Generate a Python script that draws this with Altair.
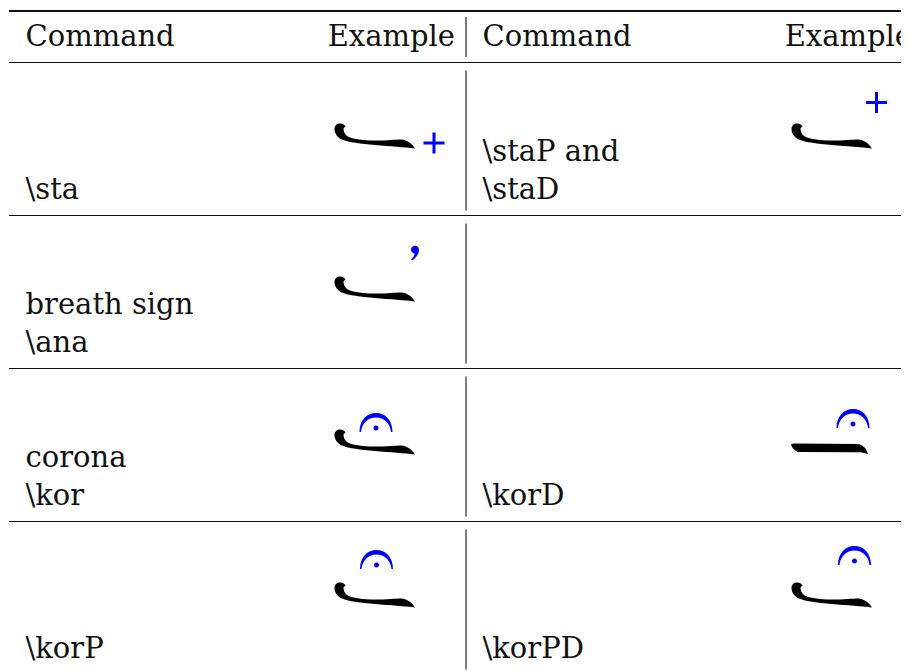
import altair as alt
import pandas as pd

# ---------------- content ----------------
HEADERS = ["Command", "Example", "Command", "Example"]
LEFT_COMMANDS = [["\\sta"], ["breath sign", "\\ana"], ["corona", "\\kor"], ["\\korP"]]
RIGHT_COMMANDS = [["\\staP and", "\\staD"], [], ["\\korD"], ["\\korPD"]]
# (base neume, accent sign, accent placement)
LEFT_EXAMPLES = [("curl", "plus", "beside"), ("curl", "comma", "breath"),
                 ("curl", "corona", "close"), ("curl", "corona", "above")]
RIGHT_EXAMPLES = [("curl", "plus", "raised"), None,
                  ("flat", "corona", "raised"), ("curl", "corona", "high")]

# ---------------- layout / style ----------------
W, H = 893, 663
TABLE_LEFT = 1
HALF_W = 457
PAD_L, PAD_R = 16.5, 11
TOP_RULE = 3
HEADER_RULE = 54
ROW_H = 153
LINE_H = 38
FONT = "DejaVu Serif"
FS = 29
BLUE = "#0000ff"
RULE_COLOR = "#111111"

CURL = ("M -40.5,-7 C -40.5,-10.5 -38,-12.5 -35,-12.5 C -32,-12.5 -30,-11 -29.5,-9.5 "
        "C -30,-9 -31,-8.5 -31.5,-7.5 C -31.5,-5 -30.5,-2 -28,0 "
        "C -24,2.5 -15,4 -5,4.5 C 8,5 20,3.5 26,3.5 "
        "C 33,4 37,8 40,12.5 C 30,11 15,10.5 0,9 C -15,7.5 -26,6.5 -33,3.5 "
        "C -38,1.5 -40.5,-3 -40.5,-7 Z")
FLAT = ("M -41,2.5 C -40,1.5 -39,1.5 -37,1.5 L 25,2 C 31,2.5 34,6 36,12 "
        "C 32,10.5 28,10.2 25,10.2 L -33,10 C -37,9.5 -40,6 -41,2.5 Z")
CORONA = ("M -16.5,0 C -16.5,-12 -9,-19 0,-19 C 9,-19 16.5,-12 16.5,0 L 15,0 "
          "C 14,-9 8,-14.5 0,-14.5 C -8,-14.5 -14,-9 -15,0 Z "
          "M -2.5,-4 C -2.5,-5.38 -1.38,-6.5 0,-6.5 C 1.38,-6.5 2.5,-5.38 2.5,-4 "
          "C 2.5,-2.62 1.38,-1.5 0,-1.5 C -1.38,-1.5 -2.5,-2.62 -2.5,-4 Z")
COMMA = ("M 0,-3.8 C 2.5,-3.8 4,-2 4,0.5 C 4,4.5 1,8.5 -3,11 L -3.8,10 "
         "C -1.5,8 -0.5,6 -0.5,4 C -2.5,3.8 -4,2 -4,0 C -4,-2 -2.2,-3.8 0,-3.8 Z")
PLUS = "M -10.5,0 L 10.5,0 M 0,-10.5 L 0,10.5"
BASE_SHAPES = {"curl": CURL, "flat": FLAT}
ACCENT_SHAPES = {"corona": CORONA, "comma": COMMA, "plus": PLUS}
ACCENT_OFFSET = {
    ("plus", "beside"): (59, 7),
    ("plus", "raised"): (44.5, -33.5),
    ("comma", "breath"): (40, -39.5),
    ("corona", "close"): (1, -10),
    ("corona", "raised"): (21, -14),
    ("corona", "above"): (1.5, -26),
    ("corona", "high"): (22.5, -30),
}

# ---------------- build tables ----------------
texts = []
for c, h in enumerate(HEADERS):
    half = c // 2
    left = TABLE_LEFT + half * HALF_W
    if c % 2 == 0:
        texts.append({"t": h, "x": left + PAD_L, "y": TOP_RULE + 35, "al": "left"})
    else:
        texts.append({"t": h, "x": left + HALF_W - PAD_R, "y": TOP_RULE + 35, "al": "right"})

for half, cmds in enumerate([LEFT_COMMANDS, RIGHT_COMMANDS]):
    left = TABLE_LEFT + half * HALF_W
    for r, lines in enumerate(cmds):
        top = HEADER_RULE + r * ROW_H
        n = len(lines)
        for i, ln in enumerate(lines):
            texts.append({"t": ln, "x": left + PAD_L,
                          "y": top + 137 - (n - 1 - i) * LINE_H, "al": "left"})
text_df = pd.DataFrame(texts)

fills, strokes = [], []
for half, exs in enumerate([LEFT_EXAMPLES, RIGHT_EXAMPLES]):
    left = TABLE_LEFT + half * HALF_W
    for r, ex in enumerate(exs):
        if ex is None:
            continue
        base, acc, place = ex
        cx = left + 366
        cy = HEADER_RULE + r * ROW_H + 74
        fills.append({"x": cx, "y": cy, "shape": BASE_SHAPES[base], "col": "black"})
        dx, dy = ACCENT_OFFSET[(acc, place)]
        item = {"x": cx + dx, "y": cy + dy, "shape": ACCENT_SHAPES[acc], "col": BLUE}
        (strokes if acc == "plus" else fills).append(item)
fill_df = pd.DataFrame(fills)
stroke_df = pd.DataFrame(strokes)

hrules = [{"x": TABLE_LEFT, "x2": TABLE_LEFT + 2 * HALF_W, "y": TOP_RULE, "w": 2}]
for k in range(4):
    hrules.append({"x": TABLE_LEFT, "x2": TABLE_LEFT + 2 * HALF_W,
                   "y": HEADER_RULE + k * ROW_H + 0.5, "w": 1.1})
hrule_df = pd.DataFrame(hrules)

vx = TABLE_LEFT + HALF_W
vrules = [{"x": vx, "y": TOP_RULE + 6, "y2": HEADER_RULE - 5}]
for r in range(4):
    top = HEADER_RULE + r * ROW_H
    vrules.append({"x": vx, "y": top + 8.5, "y2": top + ROW_H - 4.5})
vrule_df = pd.DataFrame(vrules)

xs = alt.Scale(domain=[0, W], nice=False, zero=False)
ys = alt.Scale(domain=[0, H], nice=False, zero=False, reverse=True)


def X(f="x"):
    return alt.X(f"{f}:Q", scale=xs, axis=None)


def Y(f="y"):
    return alt.Y(f"{f}:Q", scale=ys, axis=None)


h_layer = alt.Chart(hrule_df).mark_rule(color=RULE_COLOR).encode(
    x=X(), x2="x2:Q", y=Y(), strokeWidth=alt.StrokeWidth("w:Q", scale=None))
v_layer = alt.Chart(vrule_df).mark_rule(color=RULE_COLOR, strokeWidth=1.1).encode(
    x=X(), y=Y(), y2="y2:Q")
t_left = alt.Chart(text_df[text_df["al"] == "left"]).mark_text(
    font=FONT, fontSize=FS, baseline="alphabetic", align="left", color="#111111"
).encode(x=X(), y=Y(), text="t:N")
t_right = alt.Chart(text_df[text_df["al"] == "right"]).mark_text(
    font=FONT, fontSize=FS, baseline="alphabetic", align="right", color="#111111"
).encode(x=X(), y=Y(), text="t:N")
f_layer = alt.Chart(fill_df).mark_point(filled=True, opacity=1, size=4, strokeWidth=0).encode(
    x=X(), y=Y(), shape=alt.Shape("shape:N", scale=None, legend=None),
    color=alt.Color("col:N", scale=None, legend=None))
s_layer = alt.Chart(stroke_df).mark_point(filled=False, opacity=1, size=4, strokeWidth=3).encode(
    x=X(), y=Y(), shape=alt.Shape("shape:N", scale=None, legend=None),
    color=alt.Color("col:N", scale=None, legend=None))

chart = alt.layer(h_layer, v_layer, t_left, t_right, f_layer, s_layer).properties(
    width=W, height=H, autosize=alt.AutoSizeParams(type="none"), padding=0,
    background="white"
).configure_view(stroke=None)

chart.save("out.html", embed_options={"renderer": "svg", "actions": False})
